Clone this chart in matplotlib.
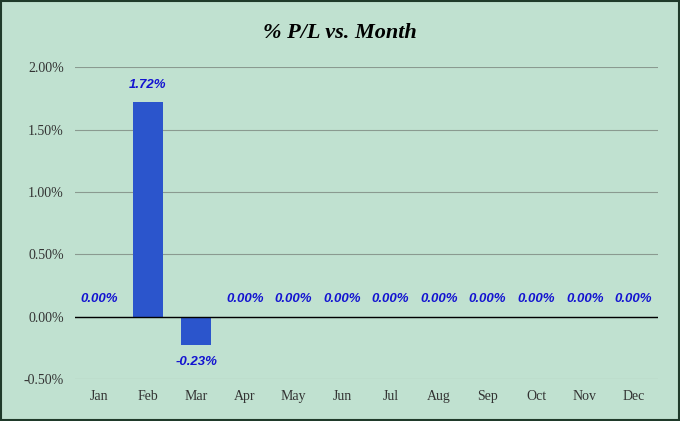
import matplotlib
matplotlib.use('Agg')
import matplotlib.pyplot as plt
from matplotlib.ticker import FuncFormatter

months = ['Jan', 'Feb', 'Mar', 'Apr', 'May', 'Jun', 'Jul', 'Aug', 'Sep', 'Oct', 'Nov', 'Dec']
pl_pct = [0.00, 1.72, -0.23, 0.00, 0.00, 0.00, 0.00, 0.00, 0.00, 0.00, 0.00, 0.00]
yticks = [-0.5, 0.0, 0.5, 1.0, 1.5, 2.0]

bg = '#c0e1d0'
fig = plt.figure(figsize=(6.8, 4.21), dpi=100, facecolor=bg)
ax = fig.add_axes([0.11, 0.10, 0.857, 0.74], facecolor=bg)

x = range(len(months))
ax.bar(x, pl_pct, width=0.62, color='#2b55cc', zorder=3)
ax.axhline(0, color='black', lw=1, zorder=4)

for i, v in enumerate(pl_pct):
    y = v + 0.09 if v >= 0 else v - 0.09
    ax.text(i, y, f'{v:.2f}%', ha='center', va='bottom' if v >= 0 else 'top',
            color='#1414d0', fontsize=9.5, fontweight='bold', style='italic',
            fontfamily='Liberation Sans')

ax.set_ylim(-0.5, 2.0)
ax.set_xlim(-0.5, 11.5)
ax.set_yticks(yticks)
ax.yaxis.set_major_formatter(FuncFormatter(lambda v, p: f'{v:.2f}%'))
ax.set_xticks(list(x))
ax.set_xticklabels(months)
for lab in ax.get_xticklabels() + ax.get_yticklabels():
    lab.set_fontfamily('Liberation Serif')
    lab.set_fontsize(10)
    lab.set_color('#333333')
ax.tick_params(length=0, pad=8)
ax.grid(axis='y', color='#8a9a90', lw=0.8, zorder=0)
for s in ax.spines.values():
    s.set_visible(False)

fig.suptitle('% P/L vs. Month', y=0.945, fontsize=16, fontweight='bold', style='italic',
             fontfamily='Liberation Serif')

border = plt.Rectangle((0.002, 0.002), 0.996, 0.996, transform=fig.transFigure,
                       fill=False, edgecolor='#1f3a2a', lw=1.5)
fig.patches.append(border)

plt.savefig('out.png', dpi=100, facecolor=bg)
